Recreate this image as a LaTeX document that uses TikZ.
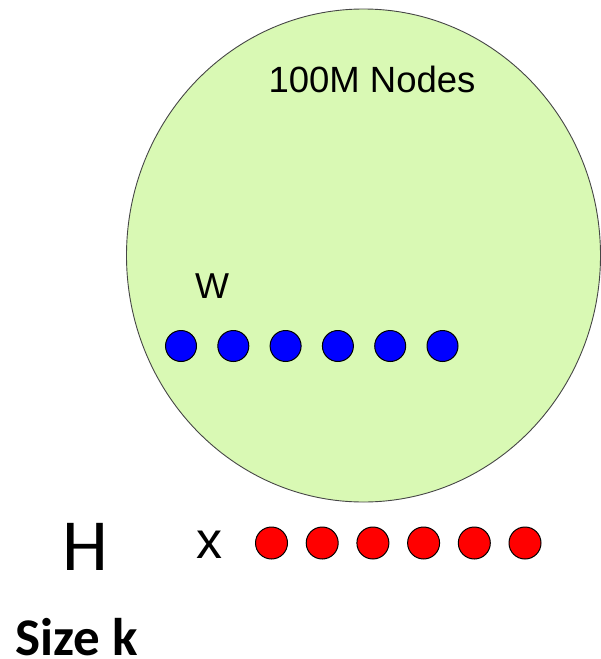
\documentclass[tikz,border=0pt]{standalone}
\usepackage{fontspec}
\setmainfont{Liberation Sans}
\newfontfamily\calib{Carlito}
\definecolor{popgreen}{RGB}{217,249,180}
\definecolor{popedge}{RGB}{70,70,70}
\tikzset{
  popshape/.style={draw=popedge, fill=popgreen, line width=0.9pt},
  wdot/.style={circle, draw=black, fill=blue, line width=1pt, minimum size=31pt, inner sep=0pt},
  hdot/.style={circle, draw=black, fill=red, line width=1pt, minimum size=32pt, inner sep=0pt},
  lbl/.style={inner sep=0pt, anchor=base, text=black},
}
\begin{document}
\begin{tikzpicture}[x=1pt,y=-1pt]
\useasboundingbox (0,0) rectangle (601,659);
\coordinate (popc) at (363.5,255.5);
\draw[popshape] (popc) ellipse [x radius=237pt, y radius=246.5pt];
\node[lbl, font=\fontsize{36.5}{40}\selectfont] (title) at (372,92) {100M Nodes};
\node[lbl, font=\fontsize{36}{40}\selectfont] (wl) at (212,298) {W};
\foreach \i in {0,...,5}{
  \node[wdot] (w\i) at ({181+52.3*\i},346) {};
}
\node[lbl, font=\calib\fontsize{73.5}{80}\selectfont] (hl) at (85,570) {H};
\node[lbl, font=\fontsize{52}{56}\selectfont] (times) at (209,558) {x};
\foreach \i in {0,...,5}{
  \node[hdot] (h\i) at ({271.5+50.7*\i},543) {};
}
\node[inner sep=0pt, anchor=base west, font=\calib\bfseries\fontsize{53}{58}\selectfont] (size) at (15.5,655) {Size k};
\end{tikzpicture}
\end{document}
